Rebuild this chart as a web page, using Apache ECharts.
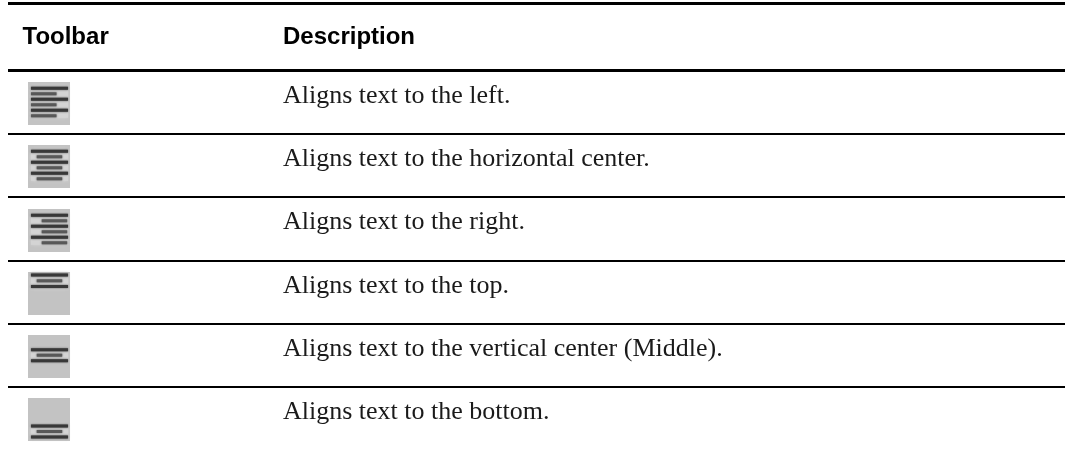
<!DOCTYPE html>
<html>
<head>
<meta charset="utf-8">
<style>
  html, body { margin: 0; padding: 0; background: #fff; }
  #main { width: 1068px; height: 450px; }
</style>
<script src="https://cdn.jsdelivr.net/npm/echarts@6/dist/echarts.min.js"></script>
</head>
<body>
<div id="main"></div>
<script>
const headers = ['Toolbar', 'Description'];
const descriptions = [
    'Aligns text to the left.',
    'Aligns text to the horizontal center.',
    'Aligns text to the right.',
    'Aligns text to the top.',
    'Aligns text to the vertical center (Middle).',
    'Aligns text to the bottom.'
];
const iconHAlign = ['left', 'center', 'right', 'center', 'center', 'center'];
const iconVAlign = ['full', 'full', 'full', 'top', 'middle', 'bottom'];
const rowNames = descriptions.map(function (_, i) { return 'row' + i; });

const TOOLBAR_X = 20;
const TEXT_X = 275;

// offset of the first stripe inside an icon, and the step down to the next one
const stripeLayout = {
    full: { count: 6, start: 6.3, step: 5.5 },
    top: { count: 3, start: 3, step: 5.8 },
    middle: { count: 3, start: 14.7, step: 5.5 },
    bottom: { count: 3, start: 28, step: 5.5 }
};
const shortStripeX = { left: 3, center: 8.7, right: 13.7 };

function renderIcon(params, api) {
    const row = api.value(1);
    const c = api.coord([api.value(0), row]);
    const left = c[0];
    const top = Math.round(c[1] - 20);
    const layout = stripeLayout[iconVAlign[row]];
    const shortX = shortStripeX[iconHAlign[row]];
    const children = [{
        type: 'rect',
        shape: { x: left, y: top, width: 42, height: 43 },
        style: { fill: '#c3c3c3' }
    }];
    // pale halo behind the stripes, like the jpeg ringing in the toolbar images
    children.push({
        type: 'rect',
        shape: {
            x: left + 3,
            y: top + layout.start - 2,
            width: 37,
            height: (layout.count - 1) * layout.step + 4
        },
        style: { fill: '#d4d4d4', shadowBlur: 3, shadowColor: '#d4d4d4' }
    });
    for (let i = 0; i < layout.count; i++) {
        const long = i % 2 === 0;
        const y = top + layout.start + i * layout.step;
        children.push({
            type: 'rect',
            shape: {
                x: left + (long ? 3 : shortX),
                y: y - 1.5,
                width: long ? 37 : 25.5,
                height: 3
            },
            style: {
                fill: long ? '#383838' : '#585858',
                shadowBlur: 2,
                shadowColor: long ? '#404040' : '#686868'
            }
        });
    }
    return { type: 'group', children: children };
}

const chart = echarts.init(document.getElementById('main'), null, { renderer: 'canvas' });

const hiddenX = {
    type: 'value', min: 0, max: 1057, show: false, splitLine: { show: false }
};

chart.setOption({
    animation: false,
    backgroundColor: '#ffffff',
    grid: [
        { left: 8, width: 1057, top: 3.5, height: 67 },
        { left: 8, width: 1057, top: 70.5, height: 381 }
    ],
    xAxis: [
        Object.assign({ gridIndex: 0 }, hiddenX),
        Object.assign({ gridIndex: 1 }, hiddenX)
    ],
    yAxis: [
        {
            gridIndex: 0,
            type: 'category',
            inverse: true,
            data: ['head'],
            axisLine: { show: false },
            axisTick: { show: false },
            axisLabel: { show: false },
            splitLine: { show: true, lineStyle: { color: '#000', width: 3 } }
        },
        {
            gridIndex: 1,
            type: 'category',
            inverse: true,
            data: rowNames,
            axisLine: { show: false },
            axisTick: { show: false },
            axisLabel: { show: false },
            splitLine: { show: true, showMinLine: false, showMaxLine: false, lineStyle: { color: '#000', width: 2 } }
        }
    ],
    series: [
        {
            name: 'headers',
            type: 'scatter',
            xAxisIndex: 0,
            yAxisIndex: 0,
            symbolSize: 0,
            silent: true,
            itemStyle: { opacity: 1 },
            data: [[14.5, 0, headers[0]], [TEXT_X, 0, headers[1]]],
            label: {
                show: true,
                position: 'right',
                distance: 0,
                opacity: 1,
                formatter: function (p) { return p.value[2]; },
                fontFamily: '"Liberation Sans", Arial, sans-serif',
                fontWeight: 'bold',
                fontSize: 24,
                color: '#000'
            }
        },
        {
            name: 'descriptions',
            type: 'scatter',
            xAxisIndex: 1,
            yAxisIndex: 1,
            symbolSize: 0,
            silent: true,
            itemStyle: { opacity: 1 },
            data: descriptions.map(function (d, i) { return [TEXT_X, i, d]; }),
            label: {
                show: true,
                position: 'right',
                distance: 0,
                offset: [0, -6],
                opacity: 1,
                formatter: function (p) { return p.value[2]; },
                fontFamily: '"Liberation Serif", "Times New Roman", serif',
                fontSize: 26,
                color: '#1a1a1a'
            }
        },
        {
            name: 'icons',
            type: 'custom',
            xAxisIndex: 1,
            yAxisIndex: 1,
            silent: true,
            clip: false,
            renderItem: renderIcon,
            data: rowNames.map(function (_, i) { return [TOOLBAR_X, i]; })
        }
    ]
});

window.addEventListener('resize', function () {
    chart.resize();
});
</script>
</body>
</html>
